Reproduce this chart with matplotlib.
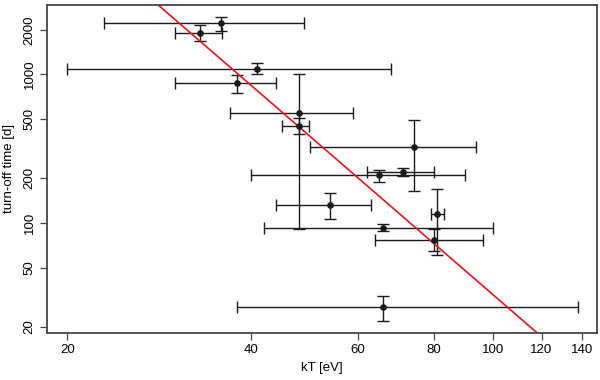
import numpy as np
import matplotlib
matplotlib.use("Agg")
import matplotlib.pyplot as plt
from matplotlib.ticker import FixedLocator, NullLocator

plt.rcParams['font.family'] = ['Liberation Sans', 'DejaVu Sans']

# datos
kT = [35.8, 33.0, 41.0, 38.0, 48.0, 48.0, 74.0, 65.0, 71.0, 53.9, 80.9, 65.9, 80.0, 65.9]
kT_lo = [23.0, 30.0, 20.0, 30.0, 37.0, 45.0, 50.0, 40.0, 62.0, 44.0, 79.0, 42.0, 63.9, 38.0]
kT_hi = [48.9, 35.9, 67.9, 44.0, 58.9, 49.9, 93.8, 89.9, 80.0, 63.0, 82.9, 99.8, 96.1, 138.0]
t_off = [2218, 1917, 1092, 879, 549, 451, 327, 209, 219, 132.5, 115, 92.4, 77.1, 27.1]
t_lo = [1978, 1678, 1000, 756, 91.4, 398, 165, 188, 206, 106, 60.8, 87.7, 64.7, 22.0]
t_hi = [2435, 2150, 1192, 990, 1000, 508, 490, 228, 234, 159, 169, 97.7, 91.4, 32.0]

# ajuste t = t0 * (kT / 60)^alpha
fit_t0 = 201.0
fit_alpha = -3.55

x_ticks = [20, 40, 60, 80, 100, 120, 140]
y_ticks = [20, 50, 100, 200, 500, 1000, 2000]

kT = np.array(kT)
t_off = np.array(t_off)
xerr = [kT - np.array(kT_lo), np.array(kT_hi) - kT]
yerr = [t_off - np.array(t_lo), np.array(t_hi) - t_off]

fig = plt.figure(figsize=(6, 3.8), dpi=100)
ax = fig.add_axes([0.078, 0.124, 0.917, 0.863])

ax.errorbar(kT, t_off, xerr=xerr, yerr=yerr, fmt='o', color='#1a1a1a',
            ms=3.8, elinewidth=1.0, capsize=4.2, capthick=1.0)

xfit = np.linspace(18, 150, 50)
ax.plot(xfit, fit_t0 * (xfit / 60.0) ** fit_alpha, color='#e8141c', lw=1.2)

ax.set_xscale('log')
ax.set_yscale('log')
ax.set_xlim(18.5, 148)
ax.set_ylim(18.2, 2940)

ax.xaxis.set_major_locator(FixedLocator(x_ticks))
ax.xaxis.set_minor_locator(NullLocator())
ax.set_xticklabels([str(v) for v in x_ticks])
ax.yaxis.set_major_locator(FixedLocator(y_ticks))
ax.yaxis.set_minor_locator(NullLocator())
ax.set_yticklabels([str(v) for v in y_ticks], rotation=90, va='center')

ax.tick_params(axis='both', direction='out', length=5, width=0.9, color='#444444',
               labelsize=9.5, pad=3)
for s in ax.spines.values():
    s.set_color('#444444')
    s.set_linewidth(1.3)

ax.set_xlabel('kT [eV]', fontsize=9.5, labelpad=4)
ax.set_ylabel('turn-off time [d]', fontsize=9.5, labelpad=6)

fig.savefig('out.png', dpi=100)
